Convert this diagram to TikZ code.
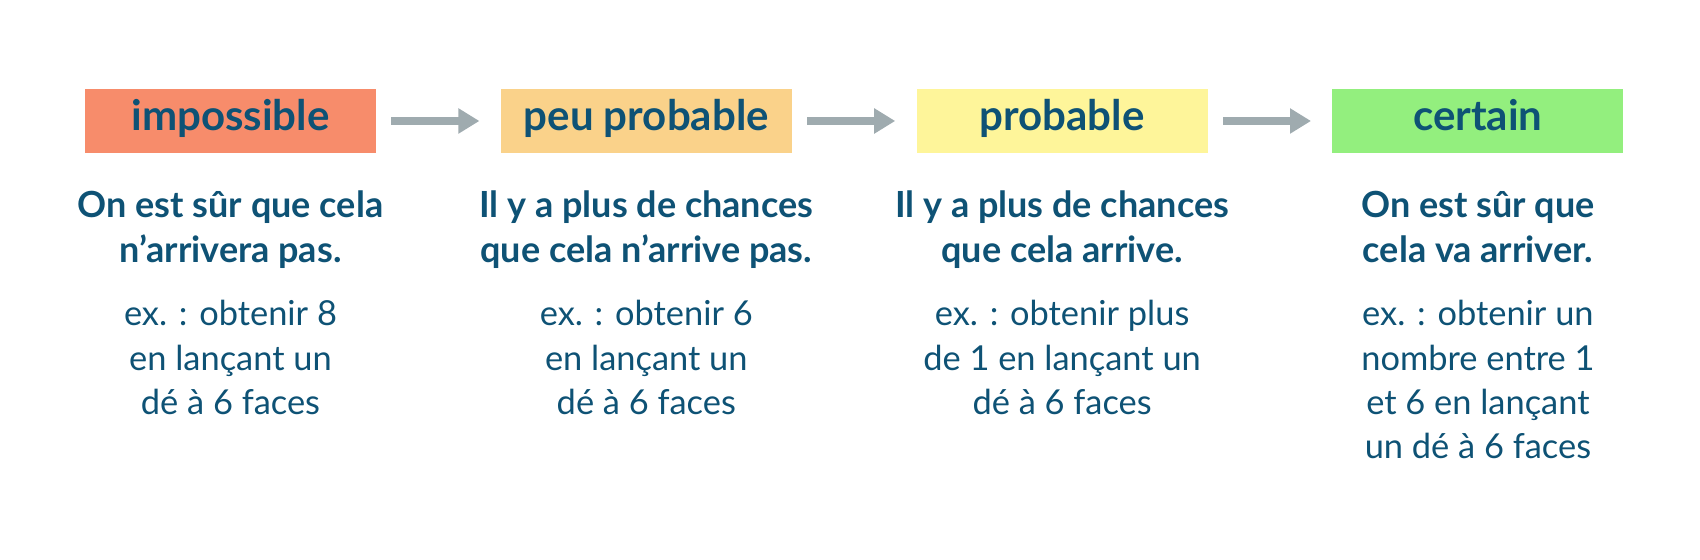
\documentclass[tikz,border=0pt]{standalone}
\usepackage{fontspec}
\setmainfont{Lato}
\usepackage{xcolor}
\usetikzlibrary{arrows.meta,positioning}

\definecolor{txtblue}{HTML}{0E5275}
\definecolor{arrgray}{HTML}{9FABAF}
\definecolor{impc}{HTML}{F78C6B}
\definecolor{peuc}{HTML}{FAD28A}
\definecolor{probc}{HTML}{FEF59A}
\definecolor{certc}{HTML}{93EF7E}

\begin{document}
\begin{tikzpicture}[x=0.5pt,y=0.5pt,node distance=62pt,
 box/.style={minimum width=145.5pt,minimum height=32pt,inner sep=0pt,
  text height=16pt,text depth=6pt,text=txtblue,font=\bfseries\fontsize{21}{25}\selectfont},
 head/.style={align=center,inner sep=0pt,text=txtblue,
  font=\bfseries\fontsize{18}{22.5}\selectfont},
 expl/.style={align=center,inner sep=0pt,text=txtblue,
  font=\fontsize{17.2}{22.2}\selectfont},
 arr/.style={-{Triangle[length=10.5pt,width=12pt]},line width=4pt,color=arrgray,
  shorten <=7.5pt,shorten >=10.5pt}]
 \useasboundingbox (0,0) rectangle (1700,560);

 % the four boxes
 \node[box,fill=impc] (imp) at (230.5,439) {impossible};
 \node[box,fill=peuc,right=of imp] (peu) {peu probable};
 \node[box,fill=probc,right=of peu] (prob) {probable};
 \node[box,fill=certc,right=of prob] (cert) {certain};

 \draw[arr] (imp) edge (peu)
  (peu) edge (prob)
  (prob) edge (cert);

 % texts under the boxes
 \node[head,below=18.7pt of imp] (imph) {On est sûr que cela\\n’arrivera pas.};
 \node[head,below=18.7pt of peu] (peuh) {Il y a plus de chances\\que cela n’arrive pas.};
 \node[head,below=18.7pt of prob] (probh) {Il y a plus de chances\\que cela arrive.};
 \node[head,below=18.7pt of cert] (certh) {On est sûr que\\cela va arriver.};

 \node[expl,below=73.3pt of imp] (impx) {ex. : obtenir 8\\en lançant un\\dé à 6 faces};
 \node[expl,below=73.3pt of peu] (peux) {ex. : obtenir 6\\en lançant un\\dé à 6 faces};
 \node[expl,below=73.3pt of prob] (probx) {ex. : obtenir plus\\de 1 en lançant un\\dé à 6 faces};
 \node[expl,below=73.3pt of cert] (certx) {ex. : obtenir un\\nombre entre 1\\et 6 en lançant\\un dé à 6 faces};
\end{tikzpicture}
\end{document}
